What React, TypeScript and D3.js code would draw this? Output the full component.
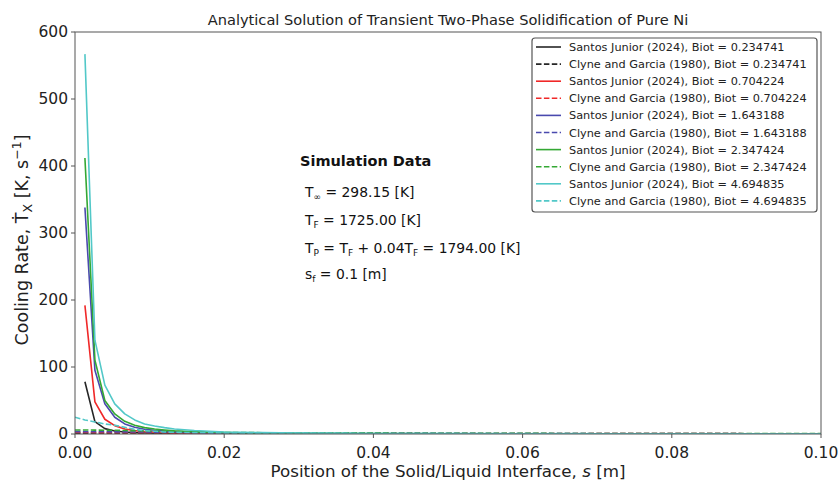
import React from "react";
import * as d3 from "d3";

// Interface positions s [m] where the analytical cooling rate is evaluated
const S_SOLID = [0.00133, 0.00267, 0.004, 0.00533, 0.00667, 0.008, 0.00933, 0.01067, 0.012, 0.01333, 0.016, 0.02, 0.025, 0.03, 0.04, 0.05, 0.06, 0.07, 0.08, 0.09, 0.1];
const S_DASHED = [0, 0.00133, 0.00267, 0.004, 0.00533, 0.00667, 0.008, 0.00933, 0.01067, 0.012, 0.016, 0.02, 0.03, 0.05, 0.1];

// Santos Junior (2024) cooling rates [K/s]
const SJ_0234741 = [78, 18.5, 8, 4.5, 2.9, 2, 1.5, 1.1, 0.9, 0.7, 0.5, 0.32, 0.2, 0.14, 0.08, 0.05, 0.04, 0.03, 0.02, 0.02, 0.015];
const SJ_0704224 = [192, 48, 22, 12.5, 7.5, 5, 3.8, 3, 2.4, 2, 1.4, 0.9, 0.6, 0.4, 0.23, 0.15, 0.11, 0.08, 0.06, 0.05, 0.04];
const SJ_1643188 = [338, 95, 45, 25, 15, 10, 7.2, 5.5, 4.3, 3.5, 2.4, 1.6, 1, 0.7, 0.4, 0.25, 0.18, 0.14, 0.11, 0.09, 0.07];
const SJ_2347424 = [412, 110, 50, 30, 19, 13, 9.5, 7.5, 6, 4.8, 3.4, 2.2, 1.4, 1, 0.55, 0.35, 0.25, 0.2, 0.15, 0.12, 0.1];
const SJ_4694835 = [567, 140, 73, 45, 30, 21, 15, 12, 9.5, 7.5, 5.2, 3, 2, 1.4, 0.8, 0.5, 0.35, 0.28, 0.22, 0.18, 0.15];

// Clyne and Garcia (1980) cooling rates [K/s]
const CG_0234741 = [1.2, 1.2, 1.15, 1.1, 1.1, 1.05, 1, 1, 1, 0.95, 0.9, 0.8, 0.7, 0.5, 0.3];
const CG_0704224 = [2.2, 2.2, 2.1, 2.1, 2, 2, 1.9, 1.9, 1.8, 1.8, 1.6, 1.4, 1.1, 0.8, 0.4];
const CG_1643188 = [3.5, 3.5, 3.4, 3.3, 3.2, 3.1, 3, 2.9, 2.8, 2.7, 2.2, 1.8, 1.3, 0.8, 0.4];
const CG_2347424 = [6, 6, 5.8, 5.6, 5.5, 5.2, 5, 4.6, 4.3, 4, 3.2, 2.3, 1.6, 1, 0.5];
const CG_4694835 = [25, 21, 18, 15, 13, 10, 7, 5, 4, 3, 2, 1.5, 1, 0.6, 0.3];

const BIOT_LABELS = ["0.234741", "0.704224", "1.643188", "2.347424", "4.694835"];
const SOLID_SERIES = [SJ_0234741, SJ_0704224, SJ_1643188, SJ_2347424, SJ_4694835];
const DASHED_SERIES = [CG_0234741, CG_0704224, CG_1643188, CG_2347424, CG_4694835];
const COLORS = ["#262626", "#f02828", "#4a4aae", "#34a834", "#52c8c8"];

const X_TICKS = [0, 0.02, 0.04, 0.06, 0.08, 0.1];
const Y_TICKS = [0, 100, 200, 300, 400, 500, 600];

const W = 839;
const H = 482;
const M = { left: 75, right: 821, top: 32, bottom: 434 };
const FONT = "DejaVu Sans, sans-serif";
const DASH = "5.5,2.4";

export default function App() {
  const x = d3.scaleLinear().domain([0, 0.1]).range([M.left, M.right]);
  const y = d3.scaleLinear().domain([0, 600]).range([M.bottom, M.top]);

  const solidLine = d3
    .line<number>()
    .x((_, i) => x(S_SOLID[i]))
    .y((d) => y(d));
  const dashedLine = d3
    .line<number>()
    .x((_, i) => x(S_DASHED[i]))
    .y((d) => y(d));

  const legendX = 532;
  const legendY = 38;
  const rowH = 17.1;

  const legendRows: { label: string; color: string; dashed: boolean }[] = [];
  BIOT_LABELS.forEach((b, i) => {
    legendRows.push({ label: `Santos Junior (2024), Biot = ${b}`, color: COLORS[i], dashed: false });
    legendRows.push({ label: `Clyne and Garcia (1980), Biot = ${b}`, color: COLORS[i], dashed: true });
  });

  const subSize = 9;

  return (
    <svg
      width={W}
      height={H}
      viewBox={`0 0 ${W} ${H}`}
      style={{ position: "absolute", left: 0, top: 0, background: "#fff" }}
      fontFamily={FONT}
    >
      <defs>
        <clipPath id="plot-area">
          <rect x={M.left} y={M.top} width={M.right - M.left} height={M.bottom - M.top} />
        </clipPath>
      </defs>
      <rect x={0} y={0} width={W} height={H} fill="#fff" />

      {/* title */}
      <text x={448} y={25} textAnchor="middle" fontSize={14.6} fill="#222">
        Analytical Solution of Transient Two-Phase Solidification of Pure Ni
      </text>

      {/* curves */}
      <g clipPath="url(#plot-area)" fill="none" strokeWidth={1.6} strokeLinejoin="round">
        {SOLID_SERIES.map((vals, i) => (
          <g key={i}>
            <path d={solidLine(vals) || ""} stroke={COLORS[i]} />
            <path d={dashedLine(DASHED_SERIES[i]) || ""} stroke={COLORS[i]} strokeDasharray={DASH} />
          </g>
        ))}
      </g>

      {/* axes frame */}
      <rect
        x={M.left}
        y={M.top}
        width={M.right - M.left}
        height={M.bottom - M.top}
        fill="none"
        stroke="#555"
        strokeWidth={1}
      />

      {/* x ticks */}
      {X_TICKS.map((t) => (
        <g key={`x${t}`}>
          <line x1={x(t)} x2={x(t)} y1={M.bottom} y2={M.bottom + 4} stroke="#555" />
          <text x={x(t)} y={458} textAnchor="middle" fontSize={15.5} fill="#222">
            {t.toFixed(2)}
          </text>
        </g>
      ))}
      {/* y ticks */}
      {Y_TICKS.map((t) => (
        <g key={`y${t}`}>
          <line x1={M.left - 4} x2={M.left} y1={y(t)} y2={y(t)} stroke="#555" />
          <text x={M.left - 7} y={y(t) + 5.4} textAnchor="end" fontSize={15.5} fill="#222">
            {t}
          </text>
        </g>
      ))}

      {/* axis labels */}
      <text x={448} y={477} textAnchor="middle" fontSize={16.7} fill="#222">
        Position of the Solid/Liquid Interface, <tspan fontStyle="italic">s</tspan> [m]
      </text>
      <text transform="translate(28,240) rotate(-90)" textAnchor="middle" fontSize={17.5} fill="#222">
        Cooling Rate, Ṫ
        <tspan fontSize={12.5} dy={3.5}>X</tspan>
        <tspan dy={-3.5}> [K, s</tspan>
        <tspan fontSize={12.5} dy={-7}>−1</tspan>
        <tspan dy={7}>]</tspan>
      </text>

      {/* simulation data annotation */}
      <text x={300} y={166} fontSize={14.5} fontWeight="bold" fill="#111">
        Simulation Data
      </text>
      <g fontSize={13.9} fill="#111">
        <text x={305} y={197}>
          T<tspan fontSize={subSize} dy={3}>∞</tspan>
          <tspan dy={-3}> = 298.15 [K]</tspan>
        </text>
        <text x={305} y={225}>
          T<tspan fontSize={subSize} dy={3}>F</tspan>
          <tspan dy={-3}> = 1725.00 [K]</tspan>
        </text>
        <text x={305} y={253}>
          T<tspan fontSize={subSize} dy={3}>P</tspan>
          <tspan dy={-3}> = T</tspan>
          <tspan fontSize={subSize} dy={3}>F</tspan>
          <tspan dy={-3}> + 0.04T</tspan>
          <tspan fontSize={subSize} dy={3}>F</tspan>
          <tspan dy={-3}> = 1794.00 [K]</tspan>
        </text>
        <text x={305} y={279}>
          s<tspan fontSize={subSize} dy={3}>f</tspan>
          <tspan dy={-3}> = 0.1 [m]</tspan>
        </text>
      </g>

      {/* legend */}
      <rect
        x={legendX}
        y={legendY}
        width={285}
        height={174}
        rx={3}
        fill="#fff"
        fillOpacity={0.85}
        stroke="#555"
        strokeWidth={1.2}
      />
      {legendRows.map((r, i) => {
        const cy = legendY + 9 + i * rowH;
        return (
          <g key={i}>
            <line
              x1={legendX + 4}
              x2={legendX + 29}
              y1={cy}
              y2={cy}
              stroke={r.color}
              strokeWidth={1.6}
              strokeDasharray={r.dashed ? DASH : undefined}
            />
            <text x={legendX + 37} y={cy + 4} fontSize={11.3} fill="#222">
              {r.label}
            </text>
          </g>
        );
      })}
    </svg>
  );
}
